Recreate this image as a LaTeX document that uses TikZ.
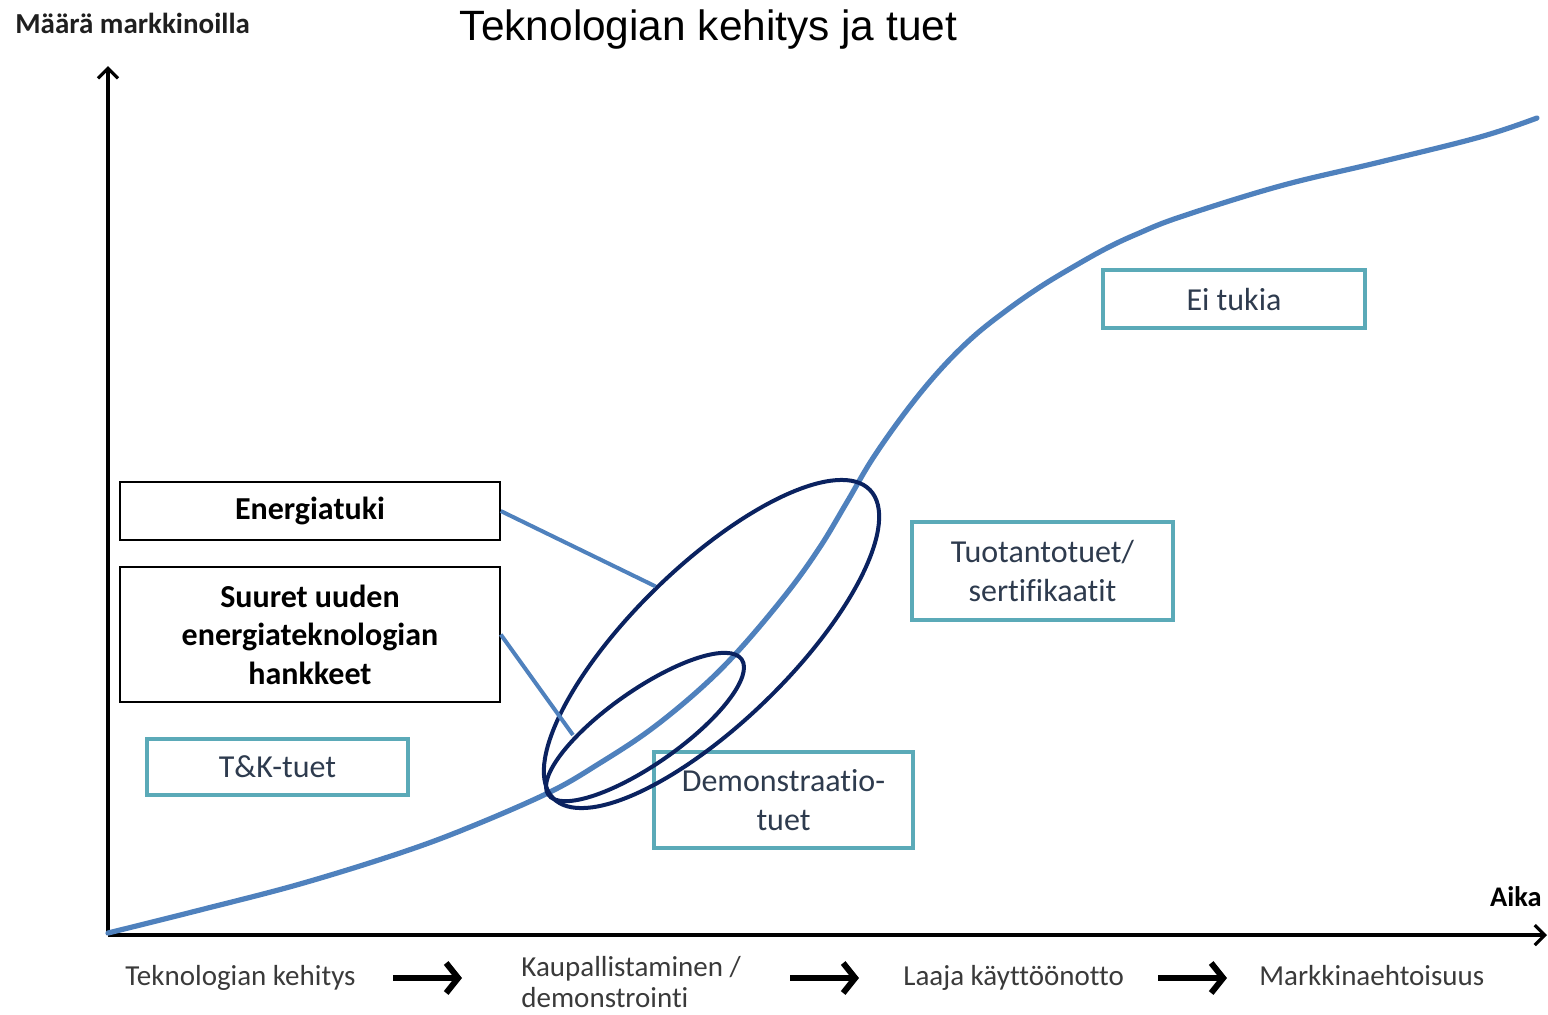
\documentclass[tikz,border=0pt]{standalone}
\usepackage{fontspec}
\setmainfont{Carlito}[Ligatures={NoCommon,NoContextual}]
\newfontfamily\arialfont{Liberation Sans}
\usetikzlibrary{arrows.meta,shadows,shapes.geometric}
\definecolor{curveblue}{HTML}{4F81BD}
\definecolor{navyring}{HTML}{0A2260}
\definecolor{tealb}{HTML}{5BAAB8}
\definecolor{boxtext}{HTML}{2E3B4E}
\definecolor{lowtext}{HTML}{3A3A3A}
\begin{document}
\begin{tikzpicture}[x=0.5pt,y=-0.5pt,
  blackbox/.style={draw=black, line width=0.75pt, fill=white, align=center, inner sep=0pt,
    font=\fontsize{16}{19.25}\selectfont\bfseries},
  tealbox/.style={draw=tealb, line width=2pt, fill=white, align=center, inner sep=0pt,
    text=boxtext, font=\fontsize{16}{19.5}\selectfont,
    drop shadow={shadow xshift=1.2pt, shadow yshift=-1.2pt, opacity=0.25, fill=gray}},
  ring/.style={draw=navyring, line width=2pt, ellipse, inner sep=0pt},
  axisline/.style={draw=black, line width=1.6pt, -{Straight Barb[length=5pt,width=10pt]}},
  stagearrow/.style={draw=black, line width=3pt, -{Straight Barb[length=6pt,width=15pt]}},
  link/.style={draw=curveblue, line width=2pt},
  lowlabel/.style={anchor=base west, text=lowtext, font=\fontsize{14.5}{15.5}\selectfont, inner sep=0pt, align=left}
]
\useasboundingbox (0,0) rectangle (1548,1014);

% titles
\node[anchor=base, font=\arialfont\fontsize{21.2}{24}\selectfont, inner sep=0pt] (title) at (708.5,40) {Teknologian kehitys ja tuet};
\node[anchor=base west, font=\fontsize{14.5}{17}\selectfont\bfseries, text=black!88, inner sep=0pt] (ylab) at (15,33) {Määrä markkinoilla};
\node[anchor=base east, font=\fontsize{14.2}{17}\selectfont\bfseries, inner sep=0pt] (xlab) at (1542,906) {Aika};

% axes
\coordinate (O) at (108,935);
\coordinate (ytop) at (108,66);
\coordinate (xend) at (1547,935);
\draw[axisline] (O) -- (ytop);
\draw[axisline] (O) -- (xend);

% curve
\draw[curveblue, line width=2.6pt, line cap=round] plot[smooth, tension=0.6] coordinates {
 (108,933) (200,910) (300,884) (400,853) (470,827) (550,792) (600,763) (650,730)
 (700,689) (740,649) (787,593) (820,547) (847,502) (873,458) (907,410) (940,370)
 (973,337) (1007,310) (1040,287) (1073,267) (1107,248) (1137,234) (1180,217)
 (1280,186) (1380,162) (1480,137) (1537,118)};

% boxes
\node[blackbox, minimum width=190pt, minimum height=29pt] (energ) at (310,511) {Energiatuki};
\node[blackbox, minimum width=190pt, minimum height=67.5pt] (suuret) at (310,634.5) {Suuret uuden\\energiateknologian\\hankkeet};
\node[tealbox, minimum width=130.5pt, minimum height=28pt] (tk) at (277.5,767) {T\&K-tuet};
\node[tealbox, minimum width=129.5pt, minimum height=48pt] (demo) at (783.5,800) {Demonstraatio-\\tuet};
\node[tealbox, minimum width=130.5pt, minimum height=49pt] (tuot) at (1042.5,571) {Tuotantotuet/\\sertifikaatit};
\node[tealbox, minimum width=131pt, minimum height=29pt] (ei) at (1234,299) {Ei tukia};

% rings
\node[ring, minimum width=221pt, minimum height=78.5pt, rotate=44.2] (big) at (711.5,644) {};
\node[ring, minimum width=118pt, minimum height=37pt, rotate=35] (small) at (645,727) {};

% links
\coordinate (smallhit) at (573,735);
\draw[link] (energ.east) -- (big.north);
\draw[link] (suuret.east) -- (smallhit);

% bottom stages
\node[lowlabel] (s1) at (125,985) {Teknologian kehitys};
\node[lowlabel] (s2) at (521,1007) {Kaupallistaminen /\\demonstrointi};
\node[lowlabel] (s3) at (903,985) {Laaja käyttöönotto};
\node[lowlabel] (s4) at (1259,985) {Markkinaehtoisuus};
\coordinate (a1s) at (393,978); \coordinate (a1e) at (462,978);
\coordinate (a2s) at (790,978); \coordinate (a2e) at (859,978);
\coordinate (a3s) at (1158,978); \coordinate (a3e) at (1227,978);
\draw[stagearrow] (a1s) -- (a1e);
\draw[stagearrow] (a2s) -- (a2e);
\draw[stagearrow] (a3s) -- (a3e);
\end{tikzpicture}
\end{document}
